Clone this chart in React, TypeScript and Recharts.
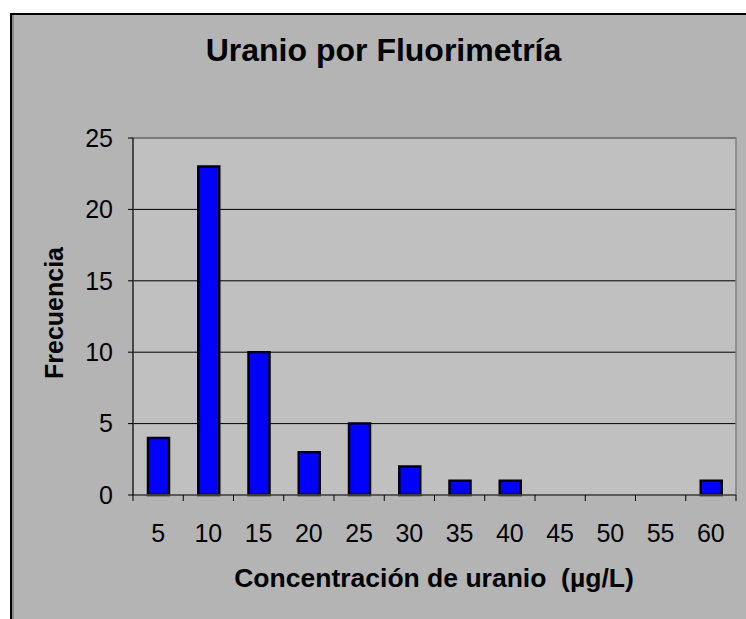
import { BarChart, Bar, XAxis, YAxis, CartesianGrid, ReferenceArea } from "recharts";

const concentraciones = ["5", "10", "15", "20", "25", "30", "35", "40", "45", "50", "55", "60"];
const frecuencias = [4, 23, 10, 3, 5, 2, 1, 1, 0, 0, 0, 1];
const yTicks = [0, 5, 10, 15, 20, 25];

const chartData = concentraciones.map((c, i) => ({ conc: c, freq: frecuencias[i] }));

const FONT = "'Liberation Sans', Arial, sans-serif";

// category label in the middle, small tick marks on the band edges
function XTick(props: any) {
  const { x, y, payload, width, visibleTicksCount, index } = props;
  const half = payload?.offset ? payload.offset : width / visibleTicksCount / 2;
  const last = index === visibleTicksCount - 1;
  return (
    <g>
      <line x1={x - half} y1={y} x2={x - half} y2={y + 6} stroke="#000" />
      {last && <line x1={x + half} y1={y} x2={x + half} y2={y + 6} stroke="#000" />}
      <text x={x} y={y + 47} textAnchor="middle" fontSize={25} fontFamily={FONT} fill="#000">
        {payload.value}
      </text>
    </g>
  );
}

export default function App() {
  return (
    <div style={{ position: "absolute", left: 0, top: 0, width: 746, height: 619, background: "#fff", overflow: "hidden" }}>
      <div
        style={{
          position: "absolute",
          left: 10,
          top: 13,
          right: -4,
          bottom: -4,
          background: "#b4b4b4",
          borderTop: "2px solid #000",
          borderLeft: "2px solid #000",
          boxShadow: "inset 2px 0 0 #8c8c8c",
        }}
      />
      <div
        style={{
          position: "absolute",
          left: 0,
          width: 767,
          top: 32,
          textAlign: "center",
          fontFamily: FONT,
          fontWeight: "bold",
          fontSize: 32,
          color: "#000",
        }}
      >
        Uranio por Fluorimetría
      </div>
      <div style={{ position: "absolute", left: 0, top: 0 }}>
        <BarChart width={746} height={619} data={chartData} margin={{ top: 138, right: 10, left: 0, bottom: 74 }}>
          <CartesianGrid vertical={false} stroke="#000" fill="#c0c0c0" />
          <ReferenceArea y1={0} y2={25} fill="none" stroke="#808080" strokeWidth={1.5} />
          <XAxis
            dataKey="conc"
            height={50}
            tickSize={0}
            tickMargin={0}
            tickLine={false}
            axisLine={{ stroke: "#505050", strokeWidth: 1.5 }}
            interval={0}
            tick={<XTick />}
          />
          <YAxis
            width={133}
            domain={[0, 25]}
            ticks={yTicks}
            tickSize={5}
            tickMargin={15}
            axisLine={{ stroke: "#000" }}
            tickLine={{ stroke: "#000" }}
            tick={{ fontSize: 25, fontFamily: FONT, fill: "#000" }}
          />
          <Bar dataKey="freq" fill="#0000ff" stroke="#000" strokeWidth={2.5} barSize={21} isAnimationActive={false} />
        </BarChart>
      </div>
      <div
        style={{
          position: "absolute",
          left: 54,
          top: 313,
          transform: "translate(-50%, -50%) rotate(-90deg)",
          fontFamily: FONT,
          fontWeight: "bold",
          fontSize: 25,
          whiteSpace: "nowrap",
          color: "#000",
        }}
      >
        Frecuencia
      </div>
      <div
        style={{
          position: "absolute",
          left: 434,
          top: 578,
          transform: "translate(-50%, -50%)",
          fontFamily: FONT,
          fontWeight: "bold",
          fontSize: 26.5,
          whiteSpace: "pre",
          color: "#000",
        }}
      >
        {"Concentración de uranio  (µg/L)"}
      </div>
    </div>
  );
}
